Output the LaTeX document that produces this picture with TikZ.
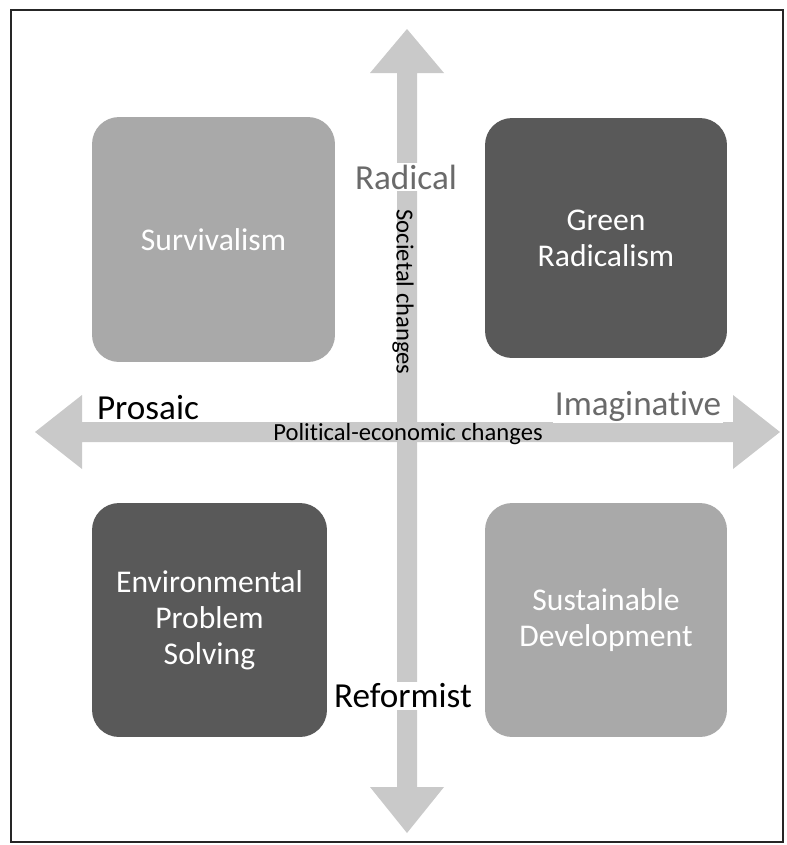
\documentclass[tikz,border=0pt]{standalone}
\usepackage{fontspec}
\setmainfont{Carlito}[Ligatures={NoCommon,NoContextual}]

\definecolor{arrowgray}{HTML}{C9C9C9}
\definecolor{lightbox}{HTML}{A9A9A9}
\definecolor{darkbox}{HTML}{595959}
\definecolor{labelgray}{HTML}{6A6A6A}

\begin{document}
\begin{tikzpicture}[x=0.02cm, y=-0.02cm,
    quad/.style={rounded corners=0.54cm, align=center, text=white,
        font=\fontsize{18}{20.5}\selectfont, inner sep=0pt},
    pole/.style={fill=white, inner sep=1pt, font=\fontsize{20}{24}\selectfont},
    axis/.style={inner sep=0pt, font=\fontsize{14}{16}\selectfont}]
    \useasboundingbox (0,0) rectangle (787,845);
    \draw[line width=1.4pt, black!85] (11,10) rectangle (783,842);

    % Political-economic axis
    \fill[arrowgray] (35,432) -- (82,395) -- (82,422) -- (733,422) -- (733,395)
        -- (780,432) -- (733,469) -- (733,442) -- (82,442) -- (82,469) -- cycle;
    % Societal axis
    \fill[arrowgray] (407,29) -- (444,73) -- (417,73) -- (417,787) -- (444,787)
        -- (407,833) -- (370,787) -- (397,787) -- (397,73) -- (370,73) -- cycle;

    % the four quadrants
    \node[quad, fill=lightbox, minimum width=4.86cm, minimum height=4.9cm]
        (surv) at (213.5,239.5) {Survivalism};
    \node[quad, fill=darkbox, minimum width=4.84cm, minimum height=4.8cm]
        (green) at (606,238) {Green\\Radicalism};
    \node[quad, fill=darkbox, minimum width=4.7cm, minimum height=4.68cm]
        (env) at (209.5,620) {Environmental\\Problem\\Solving};
    \node[quad, fill=lightbox, minimum width=4.84cm, minimum height=4.68cm]
        (sust) at (606,620) {Sustainable\\Development};

    % pole labels
    \node[pole, text=labelgray] (radical) at (406,177) {Radical};
    \node[pole] (reform) at (403,696) {Reformist};
    \node[pole] (prosaic) at (148,408) {Prosaic};
    \node[pole, text=labelgray] (imag) at (638,406) {Imaginative};

    % axis names
    \node[axis, rotate=-90] (soc) at (403,292) {Societal changes};
    \node[axis] (pol) at (408,434) {Political-economic changes};
\end{tikzpicture}
\end{document}
